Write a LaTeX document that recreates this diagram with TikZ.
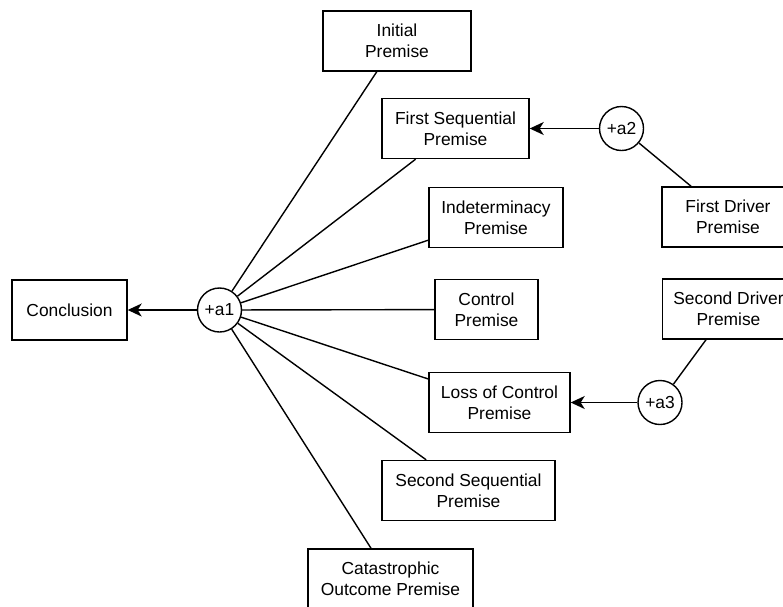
\documentclass[tikz,border=0pt]{standalone}
\usepackage{fontspec}
\setmainfont{Liberation Sans}
\usetikzlibrary{arrows.meta}
\begin{document}
\begin{tikzpicture}[x=1pt,y=-1pt,
  every node/.style={font=\fontsize{17.4}{21}\selectfont, inner sep=0pt},
  premise/.style={draw, line width=1.4pt, align=center, minimum height=60pt},
  argnode/.style={draw, circle, line width=1.4pt, minimum size=44pt},
  link/.style={line width=1.4pt},
  arr/.style={line width=1.4pt, -{Stealth[length=14pt,width=13pt,inset=4pt]}}]
\useasboundingbox (0,0) rectangle (783,606);
\clip (0,0) rectangle (783,606);
\node[premise, minimum width=115pt] (concl) at (69.5,310) {Conclusion};
\node[argnode] (a1) at (219.5,310) {+a1};
\node[premise, minimum width=148pt] (init) at (397,41) {Initial\\Premise};
\node[premise, minimum width=147pt] (first) at (455.5,128.5) {First Sequential\\Premise};
\node[premise, minimum width=134pt] (indet) at (496,217.5) {Indeterminacy\\Premise};
\node[premise, minimum width=103pt] (ctrl) at (486.5,309.5) {Control\\Premise};
\node[premise, minimum width=141pt] (loss) at (499.5,402.5) {Loss of Control\\Premise};
\node[premise, minimum width=173pt] (second) at (468.5,490.5) {Second Sequential\\Premise};
\node[premise, minimum width=165pt] (cat) at (390.5,579) {Catastrophic\\Outcome Premise};
\node[argnode] (a2) at (621.5,128.5) {+a2};
\node[premise, minimum width=132pt] (fdrv) at (728,217) {First Driver\\Premise};
\node[argnode] (a3) at (660,402.5) {+a3};
\node[premise, minimum width=132pt] (sdrv) at (728.5,309) {Second Driver\\Premise};
\draw[arr] (a1) -- (concl);
\foreach \b in {init,first,indet,ctrl,loss,second,cat} \draw[link] (a1) -- (\b);
\draw[arr] (a2) -- (first);
\draw[link] (a2) -- (fdrv);
\draw[arr] (a3) -- (loss);
\draw[link] (a3) -- (sdrv);
\end{tikzpicture}
\end{document}
